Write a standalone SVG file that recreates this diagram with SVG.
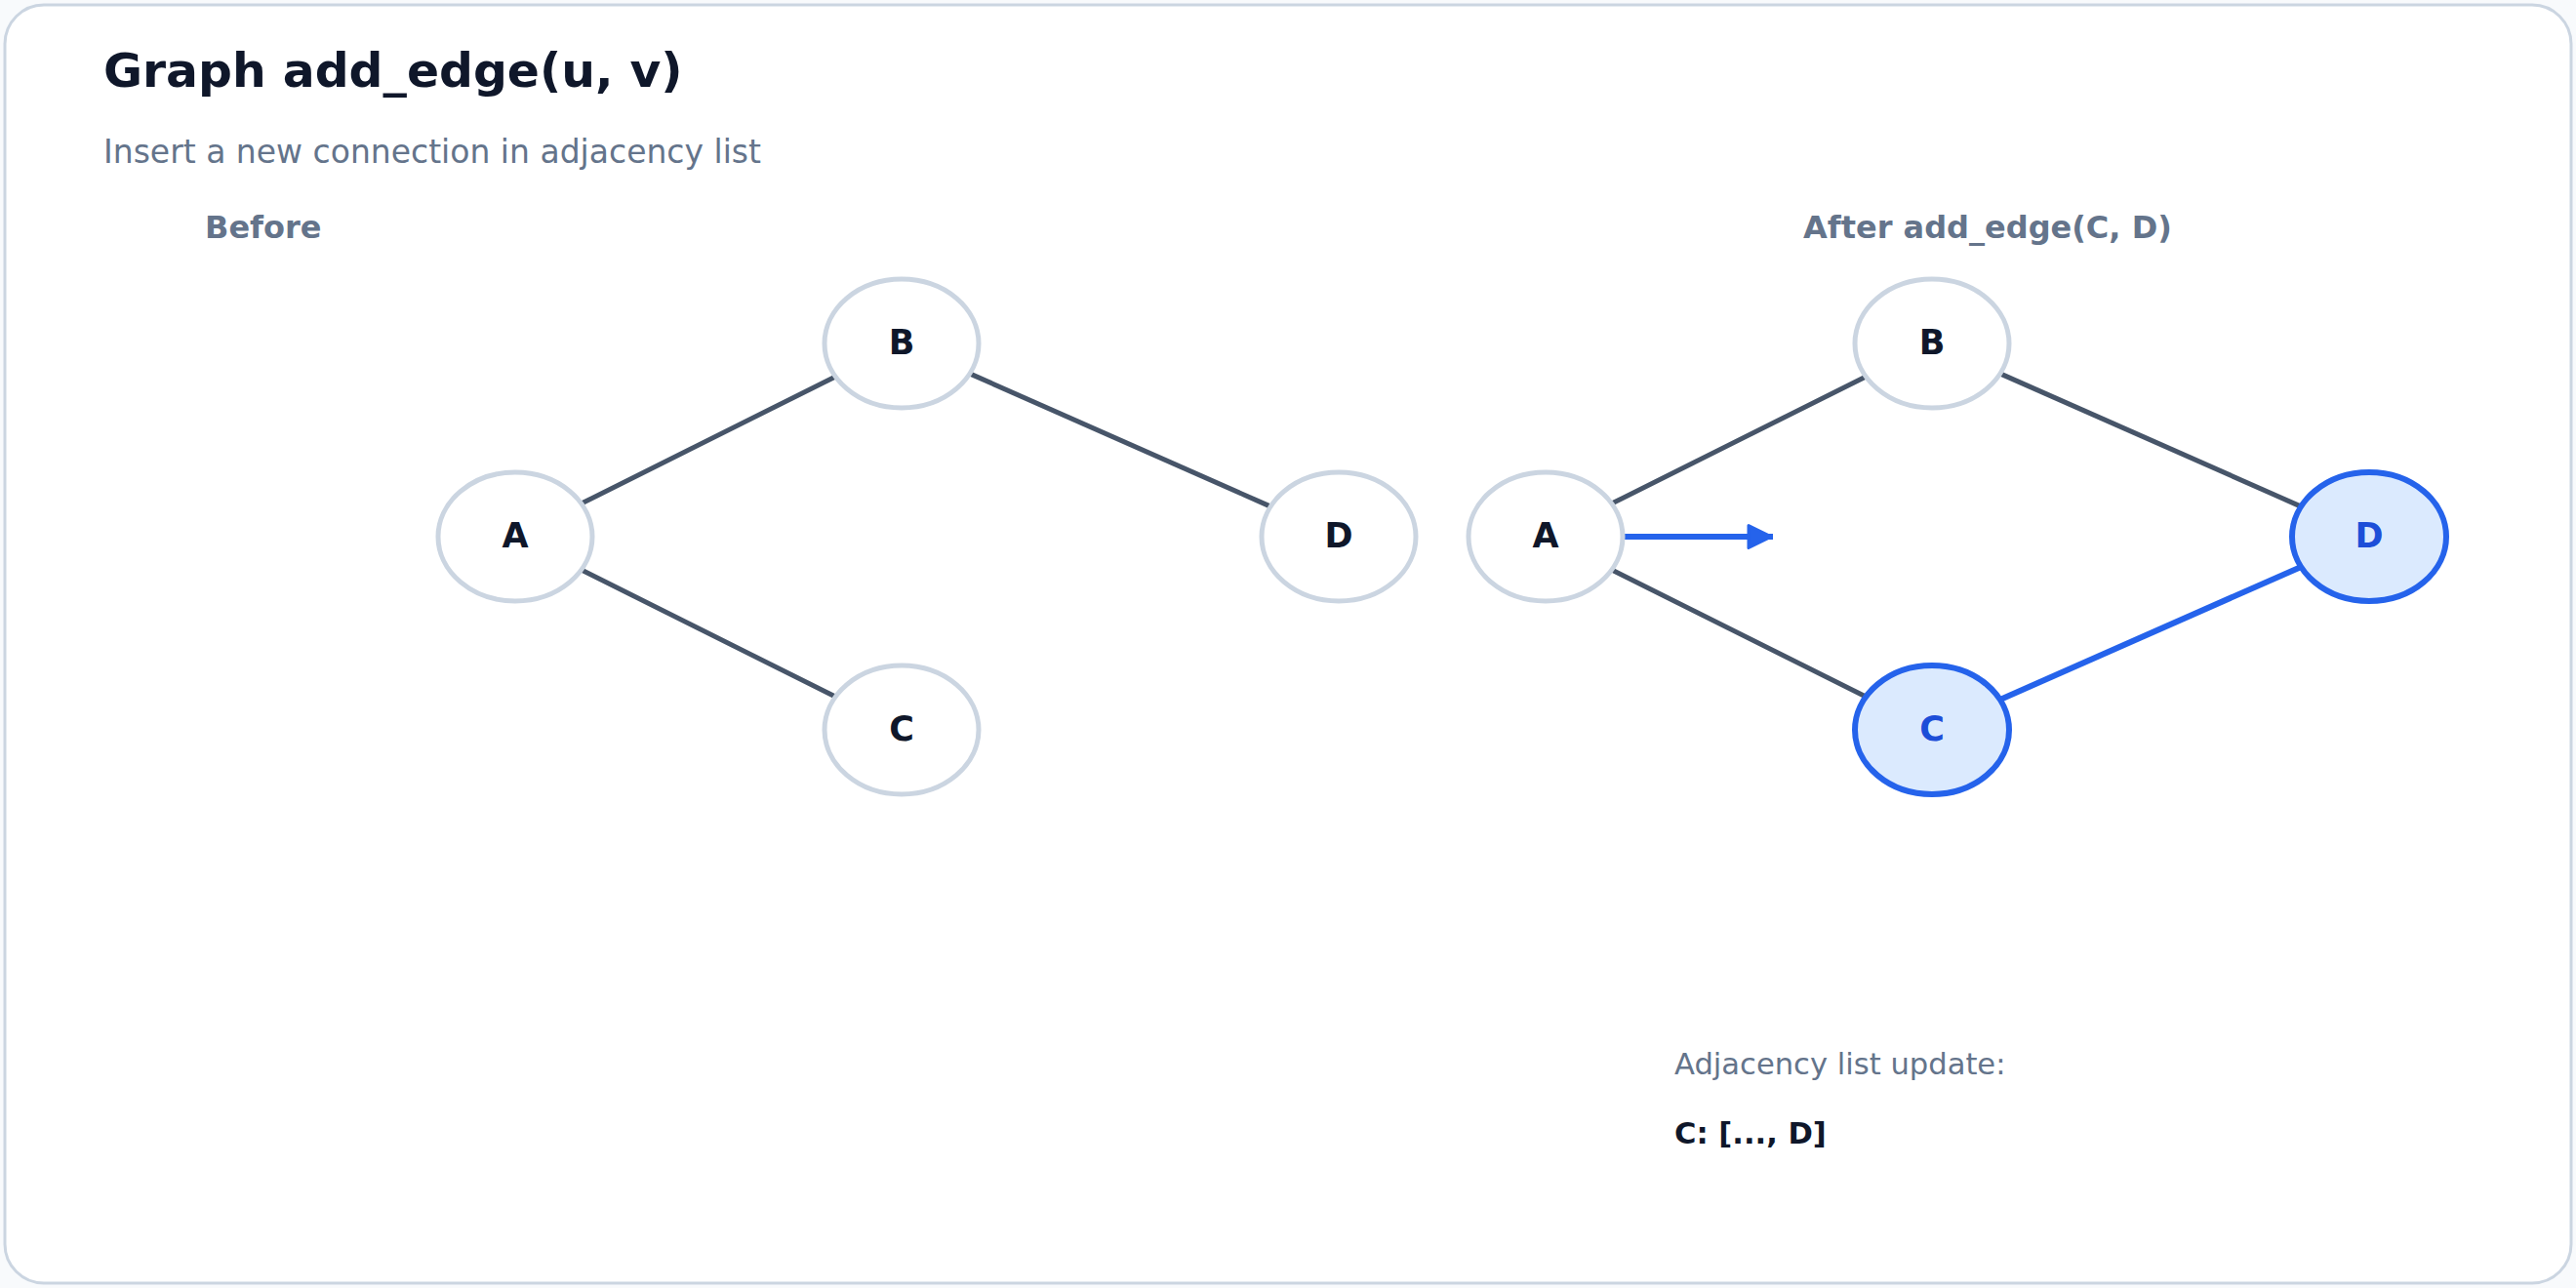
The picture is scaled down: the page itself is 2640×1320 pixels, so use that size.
<svg xmlns="http://www.w3.org/2000/svg" width="2640" height="1320" viewBox="0 0 2640 1320">
<defs>
<style>
text{font-family:"DejaVu Sans","Liberation Sans",sans-serif}
.title{font-size:48.8px;font-weight:bold;fill:#0f172a}
.sub{font-size:33px;fill:#64748b}
.sec{font-size:32px;font-weight:bold;fill:#64748b}
.note{font-size:30.6px;fill:#64748b}
.code{font-size:30.6px;font-weight:bold;fill:#0f172a}
.node ellipse{fill:#ffffff;stroke:#cbd5e1;stroke-width:5}
.node text{font-size:35px;font-weight:bold;fill:#0f172a;text-anchor:middle}
.hl ellipse{fill:#dbeafe;stroke:#2563eb;stroke-width:6}
.hl text{fill:#1d4ed8}
.edge{stroke:#475569;stroke-width:5;stroke-linecap:butt}
.new{stroke:#2563eb;stroke-width:6}
</style>
<marker id="arrow" markerUnits="userSpaceOnUse" markerWidth="32" markerHeight="32" viewBox="0 0 32 32" refX="28" refY="16" orient="auto">
<path d="M3,4.5 L26.5,16 L3,27.5 Z" fill="#2563eb" stroke="#2563eb" stroke-width="3" stroke-linejoin="round"/>
</marker>
</defs>
<rect x="0" y="0" width="2640" height="1320" fill="#f8fafc"/>
<rect x="5" y="5" width="2630" height="1310" rx="40" fill="#ffffff" stroke="#cbd5e1" stroke-width="3"/>
<text class="title" x="106" y="89">Graph add_edge(u, v)</text>
<text class="sub" x="106" y="167">Insert a new connection in adjacency list</text>
<text class="sec" x="210" y="244">Before</text>
<text class="sec" x="1848" y="244">After add_edge(C, D)</text>
<g id="connectors">
<line class="edge" x1="595.8" y1="516.1" x2="856.2" y2="385.9"/>
<line class="edge" x1="993.8" y1="382.9" x2="1302.2" y2="519.1"/>
<line class="edge" x1="595.8" y1="583.9" x2="856.2" y2="714.1"/>
<line class="edge" x1="1651.8" y1="516.1" x2="1912.2" y2="385.9"/>
<line class="edge" x1="2049.8" y1="382.9" x2="2358.2" y2="519.1"/>
<line class="edge" x1="1651.8" y1="583.9" x2="1912.2" y2="714.1"/>
<line class="new" x1="2049.8" y1="717.1" x2="2358.2" y2="580.9"/>
<line class="new" x1="1665" y1="550" x2="1817" y2="550" marker-end="url(#arrow)"/>
</g>
<g id="before-A" class="node"><ellipse cx="528" cy="550" rx="79" ry="66"/><text x="528" y="561">A</text></g>
<g id="before-B" class="node"><ellipse cx="924" cy="352" rx="79" ry="66"/><text x="924" y="363">B</text></g>
<g id="before-C" class="node"><ellipse cx="924" cy="748" rx="79" ry="66"/><text x="924" y="759">C</text></g>
<g id="before-D" class="node"><ellipse cx="1372" cy="550" rx="79" ry="66"/><text x="1372" y="561">D</text></g>
<g id="after-A" class="node"><ellipse cx="1584" cy="550" rx="79" ry="66"/><text x="1584" y="561">A</text></g>
<g id="after-B" class="node"><ellipse cx="1980" cy="352" rx="79" ry="66"/><text x="1980" y="363">B</text></g>
<g id="after-C" class="node hl"><ellipse cx="1980" cy="748" rx="79" ry="66"/><text x="1980" y="759">C</text></g>
<g id="after-D" class="node hl"><ellipse cx="2428" cy="550" rx="79" ry="66"/><text x="2428" y="561">D</text></g>
<text class="note" x="1716" y="1101">Adjacency list update:</text>
<text class="code" x="1716" y="1172">C: [..., D]</text>
</svg>
